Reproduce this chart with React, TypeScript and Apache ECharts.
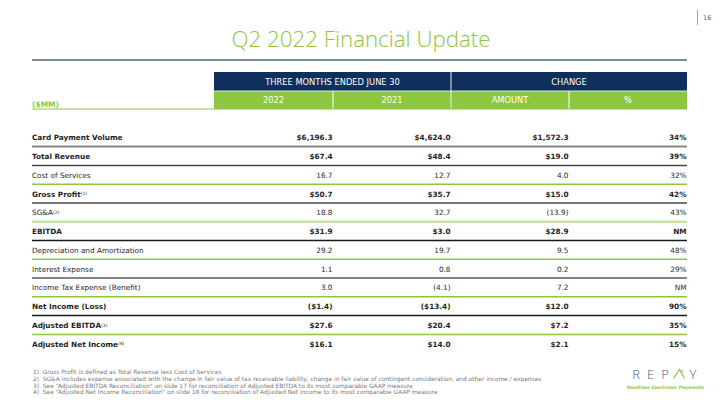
import React, { useEffect, useRef } from "react";
import * as echarts from "echarts";

const titleText = "Q2 2022 Financial Update";
const pageNumber = "16";
const unitLabel = "($MM)";
const groupHeaders = ["THREE MONTHS ENDED JUNE 30", "CHANGE"];
const columnHeaders = ["2022", "2021", "AMOUNT", "%"];

const rowLabels = [
  "Card Payment Volume",
  "Total Revenue",
  "Cost of Services",
  "Gross Profit",
  "SG&A",
  "EBITDA",
  "Depreciation and Amortization",
  "Interest Expense",
  "Income Tax Expense (Benefit)",
  "Net Income (Loss)",
  "Adjusted EBITDA",
  "Adjusted Net Income",
];
const rowNotes = ["", "", "", "(1)", "(2)", "", "", "", "", "", "(3)", "(4)"];
const boldRows = [true, true, false, true, false, true, false, false, false, true, true, true];
const values2022 = ["$6,196.3", "$67.4", "16.7", "$50.7", "18.8", "$31.9", "29.2", "1.1", "3.0", "($1.4)", "$27.6", "$16.1"];
const values2021 = ["$4,624.0", "$48.4", "12.7", "$35.7", "32.7", "$3.0", "19.7", "0.8", "(4.1)", "($13.4)", "$20.4", "$14.0"];
const changeAmount = ["$1,572.3", "$19.0", "4.0", "$15.0", "(13.9)", "$28.9", "9.5", "0.2", "7.2", "$12.0", "$7.2", "$2.1"];
const changePct = ["34%", "39%", "32%", "42%", "43%", "NM", "48%", "29%", "NM", "90%", "35%", "15%"];
const separatorKinds = ["gray", "dark", "green", "dark", "lightgreen", "black", "green", "gray", "green", "black", "green", ""];

const footnotes = [
  "1)  Gross Profit is defined as Total Revenue less Cost of Services",
  "2)  SG&A includes expense associated with the change in fair value of tax receivable liability, change in fair value of contingent consideration, and other income / expenses",
  "3)  See \u201cAdjusted EBITDA Reconciliation\u201d on slide 17 for reconciliation of Adjusted EBITDA to its most comparable GAAP measure",
  "4)  See \u201cAdjusted Net Income Reconciliation\u201d on slide 18 for reconciliation of Adjusted Net Income to its most comparable GAAP measure",
];

const logoLetters = ["R", "E", "P", "A", "Y"];
const logoTagline = "Realtime Electronic Payments";

const GREEN = "#8dc63f";
const NAVY = "#0f305c";
const TEXT = "#1f1f1f";
const FONT = "DejaVu Sans";

const sepStyle: Record<string, { stroke: string; w: number }> = {
  gray: { stroke: "#858585", w: 2 },
  dark: { stroke: "#4a4a4a", w: 1.5 },
  green: { stroke: GREEN, w: 1.5 },
  lightgreen: { stroke: "#c6e2a4", w: 2.5 },
  black: { stroke: "#1a1a1a", w: 1.5 },
};

function txt(x: number, y: number, text: string, opts: any = {}) {
  const align = opts.align || "left";
  return {
    type: "text",
    x,
    y,
    silent: true,
    style: {
      text,
      fill: opts.fill || TEXT,
      fontFamily: opts.fontFamily || FONT,
      fontSize: opts.fontSize || 7.3,
      fontWeight: opts.fontWeight || "normal",
      align,
      textAlign: align,
      verticalAlign: "middle",
      textVerticalAlign: "middle",
      rich: opts.rich,
    },
  };
}

export default function App() {
  const ref = useRef<HTMLDivElement>(null);
  useEffect(() => {
    if (!ref.current) return;
    const chart = echarts.init(ref.current, undefined, { renderer: "svg" });

    const left = 32;
    const right = 687;
    const colEdges = [214, 333, 451, 569, 687];
    const headTop = 72;
    const headMid = 91;
    const headBottom = 109;
    const rowStart = 137.7;
    const rowPitch = 18.78;

    const els: any[] = [];

    // title area
    els.push(txt(361, 38, titleText, { fontFamily: "Open Sans", fontSize: 22.3, fill: GREEN, align: "center", fontWeight: 300 }));
    els.push({ type: "line", silent: true, shape: { x1: 697.5, y1: 10, x2: 697.5, y2: 25 }, style: { stroke: GREEN, lineWidth: 1 } });
    els.push(txt(703, 17.5, pageNumber, { fontSize: 6.5, fill: "#666" }));
    els.push({ type: "line", silent: true, shape: { x1: left, y1: 60, x2: right, y2: 60 }, style: { stroke: "#4f6478", lineWidth: 1.5 } });

    // header
    els.push({ type: "rect", silent: true, shape: { x: colEdges[0], y: headTop, width: right - colEdges[0], height: headMid - headTop }, style: { fill: NAVY } });
    els.push({ type: "rect", silent: true, shape: { x: colEdges[0], y: headMid, width: right - colEdges[0], height: headBottom - headMid }, style: { fill: GREEN } });
    els.push({ type: "line", silent: true, shape: { x1: colEdges[0], y1: headMid, x2: right, y2: headMid }, style: { stroke: "#d9e4ee", lineWidth: 1 } });
    els.push({ type: "line", silent: true, shape: { x1: colEdges[2], y1: headTop, x2: colEdges[2], y2: headBottom }, style: { stroke: "#e6ebf0", lineWidth: 1 } });
    [colEdges[1], colEdges[3]].forEach((x) => {
      els.push({ type: "line", silent: true, shape: { x1: x, y1: headMid, x2: x, y2: headBottom }, style: { stroke: "#ffffff", lineWidth: 1 } });
    });
    els.push(txt((colEdges[0] + colEdges[2]) / 2, (headTop + headMid) / 2, groupHeaders[0], { fill: "#fff", fontSize: 8.3, align: "center" }));
    els.push(txt((colEdges[2] + colEdges[4]) / 2, (headTop + headMid) / 2, groupHeaders[1], { fill: "#fff", fontSize: 8.3, align: "center" }));
    columnHeaders.forEach((h, i) => {
      els.push(txt((colEdges[i] + colEdges[i + 1]) / 2, (headMid + headBottom) / 2, h, { fill: "#fff", fontSize: 8.3, align: "center" }));
    });
    els.push(txt(left, 104, unitLabel, { fill: GREEN, fontWeight: "bold", fontSize: 7.5 }));
    els.push({ type: "line", silent: true, shape: { x1: left, y1: headBottom, x2: right, y2: headBottom }, style: { stroke: GREEN, lineWidth: 1 } });

    // rows
    const valueCols = [values2022, values2021, changeAmount, changePct];
    rowLabels.forEach((label, i) => {
      const y = rowStart + i * rowPitch;
      const weight = boldRows[i] ? "bold" : "normal";
      if (rowNotes[i]) {
        els.push(
          txt(left, y, `{m|${label}}{s|${rowNotes[i]}}`, {
            rich: {
              m: { fontFamily: FONT, fontSize: 7.3, fontWeight: weight, fill: TEXT },
              s: { fontFamily: FONT, fontSize: 4.5, fontWeight: "normal", fill: TEXT, padding: [0, 0, 1, 0] },
            },
          })
        );
      } else {
        els.push(txt(left, y, label, { fontWeight: weight }));
      }
      valueCols.forEach((col, c) => {
        els.push(txt(colEdges[c + 1] - 0.5, y, col[i], { fontWeight: weight, align: "right" }));
      });
      const kind = separatorKinds[i];
      if (kind) {
        const s = sepStyle[kind];
        const ly = y + 8.9;
        els.push({ type: "line", silent: true, shape: { x1: left, y1: ly, x2: right, y2: ly }, style: { stroke: s.stroke, lineWidth: s.w } });
      }
    });

    // footnotes
    footnotes.forEach((f, i) => {
      els.push(txt(33, 372 + i * 6.8, f, { fontSize: 5.9, fill: "#7a7a7a" }));
    });

    // logo
    const logoX = [636, 650.5, 665, 679, 693];
    logoLetters.forEach((ch, i) => {
      if (ch === "A") {
        els.push({
          type: "polyline",
          silent: true,
          shape: { points: [[logoX[i] - 5.5, 378.5], [logoX[i] + 0.5, 369.3], [logoX[i] + 5.5, 378.5]] },
          style: { stroke: "#7fbf4a", lineWidth: 1.1, fill: "none" },
        });
        els.push({
          type: "line",
          silent: true,
          shape: { x1: logoX[i] + 1.8, y1: 372, x2: logoX[i] + 4.5, y2: 370.3 },
          style: { stroke: "#7fbf4a", lineWidth: 1 },
        });
      } else {
        els.push(txt(logoX[i], 374, ch, { fontFamily: "Open Sans", fontSize: 13, fill: "#3f5b7c", align: "center", fontWeight: 300 }));
      }
    });
    els.push(txt(665.5, 387.3, logoTagline, { fontSize: 4.6, fontWeight: "bold", fill: GREEN, align: "center" }));

    chart.setOption({
      animation: false,
      backgroundColor: "#ffffff",
      graphic: { elements: els },
    });
    return () => chart.dispose();
  }, []);

  return <div ref={ref} style={{ position: "fixed", left: 0, top: 0, width: 720, height: 405 }} />;
}
